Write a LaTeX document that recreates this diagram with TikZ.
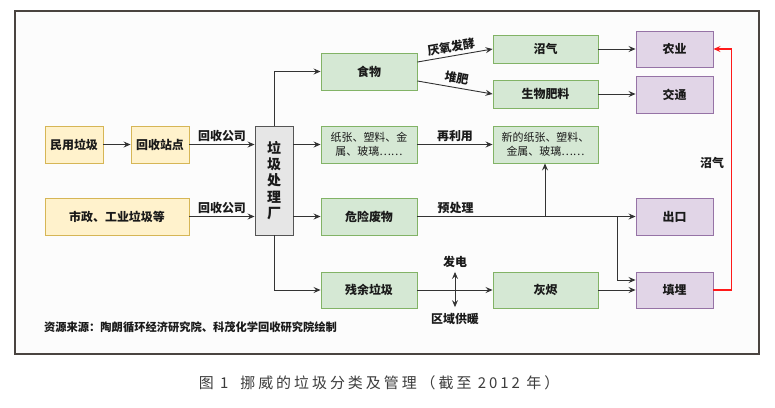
\documentclass[tikz,border=0pt]{standalone}
\usepackage{fontspec}
\setmainfont{Noto Sans CJK SC}
\newfontfamily\capfont{Noto Sans CJK SC}[LetterSpace=20]
\usetikzlibrary{arrows.meta,calc}
\definecolor{ylwfill}{HTML}{FFF2CC}\definecolor{ylwdraw}{HTML}{D6B656}
\definecolor{grnfill}{HTML}{D5E8D4}\definecolor{grndraw}{HTML}{82B366}
\definecolor{prpfill}{HTML}{E1D5E7}\definecolor{prpdraw}{HTML}{9673A6}
\definecolor{gryfill}{HTML}{E6E6E6}\definecolor{grydraw}{HTML}{555555}
\definecolor{framec}{HTML}{4A4440}
\definecolor{linec}{HTML}{333333}
\definecolor{txtc}{HTML}{1A1A1A}
\definecolor{redc}{HTML}{FF1A1A}
\tikzset{
  box/.style 2 args={draw, line width=0.9bp, minimum width=#1, minimum height=#2, inner sep=0pt, align=center, text=txtc, font=\fontsize{12}{14}\selectfont\bfseries},
  ybox/.style={fill=ylwfill, draw=ylwdraw},
  gbox/.style={fill=grnfill, draw=grndraw},
  pbox/.style={fill=prpfill, draw=prpdraw},
  cbox/.style={fill=gryfill, draw=grydraw},
  conn/.style={draw=linec, line width=0.9bp, -{Stealth[length=7bp,width=6bp,inset=2.5bp]}},
  lbl/.style={font=\fontsize{12}{14}\selectfont\bfseries, text=txtc, inner sep=1bp},
  small/.style={font=\fontsize{11}{13.5}\selectfont},
}
\begin{document}
\begin{tikzpicture}[x=1bp,y=-1bp]
\useasboundingbox (0,0) rectangle (775,407);
\fill[white] (0,0) rectangle (775,407);
\draw[framec, line width=1.3bp, fill={rgb,255:red,252;green,252;blue,252}] (15,11) rectangle (759,354);

% left sources
\node[box={58bp}{37bp}, ybox] (mj) at (74,144.5) {民用垃圾};
\node[box={58bp}{37bp}, ybox] (hs) at (160,144.5) {回收站点};
\node[box={144bp}{37bp}, ybox] (sz) at (117,216.5) {市政、工业垃圾等};
\node[box={38bp}{109bp}, cbox, font=\fontsize{14}{16.5}\selectfont\bfseries] (cl) at (274,180.5) {垃\\圾\\处\\理\\厂};

% middle
\node[box={96bp}{37bp}, gbox] (sw) at (369,71.5) {食物};
\node[box={96bp}{37bp}, gbox, small] (zz) at (369,144.5) {纸张、塑料、金\\属、玻璃……};
\node[box={96bp}{37bp}, gbox] (wx) at (369,216.5) {危险废物};
\node[box={96bp}{36bp}, gbox] (cy) at (369,290) {残余垃圾};

\node[box={105bp}{28bp}, gbox] (zq) at (545.5,49) {沼气};
\node[box={105bp}{28bp}, gbox] (fl) at (545.5,94) {生物肥料};
\node[box={105bp}{37bp}, gbox, small] (xz) at (545.5,144.5) {新的纸张、塑料、\\金属、玻璃……};
\node[box={105bp}{36bp}, gbox] (hj) at (545.5,290) {灰烬};

% right
\node[box={77bp}{36bp}, pbox] (ny) at (674.5,49) {农业};
\node[box={77bp}{37bp}, pbox] (jt) at (674.5,94.5) {交通};
\node[box={77bp}{37bp}, pbox] (ck) at (674.5,216.5) {出口};
\node[box={77bp}{36bp}, pbox] (tm) at (674.5,290) {填埋};

% connectors left
\draw[conn] (mj) -- (hs);
\draw[conn] (hs.east) -- (hs.east -| cl.west) node[lbl, midway, above=1bp] {回收公司};
\draw[conn] (sz.east) -- (sz.east -| cl.west) node[lbl, midway, above=1bp] {回收公司};
\draw[conn] (cl.north) |- (sw.west);
\draw[conn] (zz.west -| cl.east) -- (zz.west);
\draw[conn] (wx.west -| cl.east) -- (wx.west);
\draw[conn] (cl.south) |- (cy.west);

% middle connectors
\draw[conn] ($(sw.east)+(0,-9.5)$) -- (zq.west) node[lbl, pos=0.47, above=2bp, sloped] {厌氧发酵};
\draw[conn] ($(sw.east)+(0,9.5)$) -- (fl.west) node[lbl, pos=0.5, above=2bp, sloped] {堆肥};
\draw[conn] (zq) -- (ny);
\draw[conn] (fl.east) -- (fl.east -| jt.west);
\draw[conn] (zz) -- (xz) node[lbl, midway, above=1bp] {再利用};
\draw[conn] (wx.east) -- (ck.west) node[lbl, pos=0.175, above=1bp] {预处理};
\coordinate (j1) at (545,216.5);
\coordinate (j2) at (617,216.5);
\draw[conn] (j1) -- (xz.south -| j1);
\draw[conn] (j2) |- ($(tm.west)+(0,-10)$);
\draw[conn] (cy) -- (hj);
\draw[conn] (hj) -- (tm);

% power / heating
\node[lbl] (fd) at (455,262) {发电};
\node[lbl] (qy) at (455,319) {区域供暖};
\draw[draw=linec, line width=0.9bp, {Stealth[length=7bp,width=6bp,inset=2.5bp]}-{Stealth[length=7bp,width=6bp,inset=2.5bp]}] (fd.south) ++(0,3) -- ($(qy.north)+(0,-5)$);

% red biogas
\draw[draw=redc, line width=1.5bp, -{Stealth[length=7bp,width=6bp,inset=2.5bp]}] (tm.east) -- ++(18,0) |- (ny.east);
\node[lbl] (zql) at (712,163) {沼气};

% source and caption
\node[lbl, anchor=west, font=\fontsize{11.3}{13}\selectfont\bfseries] (src) at (43,327) {资源来源：陶朗循环经济研究院、科茂化学回收研究院绘制};
\node[text={rgb,255:red,60;green,60;blue,60}, font=\capfont\fontsize{15}{17}\selectfont, inner sep=0pt] (cap) at (379,383) {图 1\hspace{12bp}挪威的垃圾分类及管理\hspace{4bp}（截至 2012 年）};
\end{tikzpicture}
\end{document}
